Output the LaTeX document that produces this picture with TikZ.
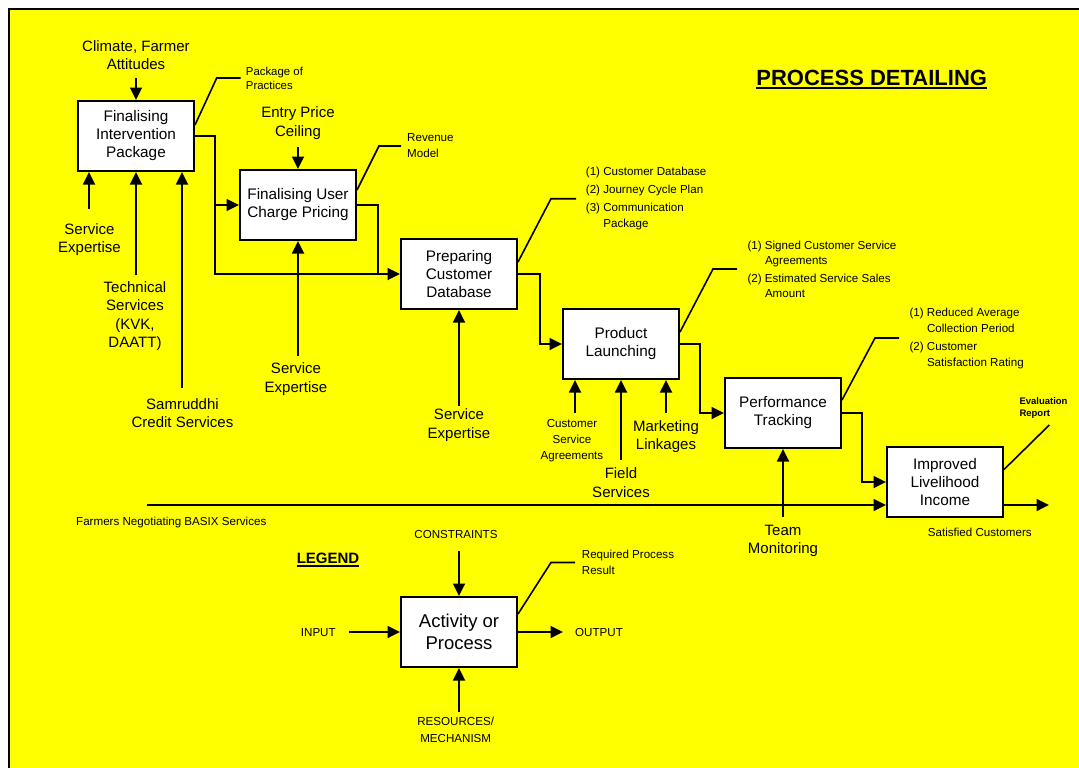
\documentclass[tikz,border=0pt]{standalone}
\usepackage{fontspec}
\setmainfont{Liberation Sans}
\usepackage{tikz}
\usetikzlibrary{positioning,arrows.meta}
\definecolor{bgclr}{rgb}{1, 1, 0}
\definecolor{boxclr}{rgb}{1, 1, 1}
\newcommand{\bigtxt}{\fontsize{15}{18.5}\selectfont}
\newcommand{\smalltxt}{\fontsize{11.6}{16}\selectfont}
\newcommand{\indt}{\hspace*{17.5pt}}
\tikzset{ %
  ,>={Triangle[length=12.5pt,width=12pt]}
  ,every node/.style={inner sep=0, font=\bigtxt}
  ,activity/.style={draw, rectangle, line width=2pt, fill=boxclr, minimum width=116pt, minimum height=70pt, align=center, font=\fontsize{15.3}{18}\selectfont}
  ,lbl/.style={align=center}
  ,tiny/.style={align=center, font=\smalltxt}
  ,note/.style={align=left, anchor=west, font=\smalltxt}
  ,flow/.style={line width=1.8pt, ->}
  ,lead/.style={line width=1.6pt}
}

\begin{document}
\begin{tikzpicture}[x=1pt, y=-1pt]
  % frame
  \useasboundingbox (0,0) rectangle (1079,768);
  \fill[bgclr] (9,9) rectangle (1079,768);
  \draw[line width=2pt] (9,768) -- (9,9) -- (1079,9);

  % title
  \node[font=\fontsize{22}{26}\selectfont\bfseries, anchor=base] (ttl) at (871.7,85.2) {PROCESS DETAILING};
  \draw[line width=2pt] ([yshift=-2.5pt]ttl.base west) -- ([yshift=-2.5pt]ttl.base east);

  % activities
  \draw
  node[activity] (FI) at (136,136) {Finalising\\Intervention\\Package}
  node[activity] (UC) at (298,205) {Finalising User\\Charge Pricing}
  node[activity] (CD) at (459,274) {Preparing\\Customer\\Database}
  node[activity] (PL) at (621,344) {Product\\Launching}
  node[activity] (PT) at (783,413) {Performance\\Tracking}
  node[activity] (LI) at (945,482) {Improved\\Livelihood\\Income};

  % constraints and mechanisms
  \draw
  node[lbl] (cfa) at (136,55) {Climate, Farmer\\Attitudes}
  node[lbl] (epc) at (298,123) {Entry Price\\Ceiling}
  node[lbl] (se1) at (89.5,239.5) {Service\\Expertise}
  node[lbl] (ts) at (135,316) {Technical\\Services\\(KVK,\\DAATT)}
  node[lbl] (scs) at (182.5,413) {Samruddhi\\Credit Services}
  node[lbl] (se2) at (296,379) {Service\\Expertise}
  node[lbl] (se3) at (459,425) {Service\\Expertise}
  node[tiny] (csa) at (572,441) {Customer\\Service\\Agreements}
  node[lbl] (fld) at (621,482.5) {Field\\Services}
  node[lbl] (mkt) at (666,436.7) {Marketing\\Linkages}
  node[lbl] (tmn) at (783,541) {Team\\Monitoring};

  \coordinate (cfa-a) at (136,78);
  \coordinate (epc-a) at (298,147);
  \coordinate (se1-a) at (89,209);
  \coordinate (ts-a) at (136,275);
  \coordinate (scs-a) at (182,388);
  \coordinate (se2-a) at (298,356);
  \coordinate (se3-a) at (459,406);
  \coordinate (csa-a) at (575,413);
  \coordinate (fld-a) at (621,460);
  \coordinate (mkt-a) at (666,413);
  \coordinate (tmn-a) at (783,517);
  \draw[flow] (cfa-a) -- (FI.north);
  \draw[flow] (epc-a) -- (UC.north);
  \draw[flow] (se1-a) -- (se1-a |- FI.south);
  \draw[flow] (ts-a) -- (ts-a |- FI.south);
  \draw[flow] (scs-a) -- (scs-a |- FI.south);
  \draw[flow] (se2-a) -- (UC.south);
  \draw[flow] (se3-a) -- (CD.south);
  \draw[flow] (csa-a) -- (csa-a |- PL.south);
  \draw[flow] (fld-a) -- (PL.south);
  \draw[flow] (mkt-a) -- (mkt-a |- PL.south);
  \draw[flow] (tmn-a) -- (PT.south);

  % flow between activities
  \draw[flow] (FI.east) -| ([xshift=-24pt]UC.west) -- (UC.west);
  \draw[flow] ([xshift=-24pt]UC.west) |- (CD.west);
  \draw[line width=1.8pt] (UC.east) -| ([xshift=-22pt]CD.west);
  \draw[flow] (CD.east) -| ([xshift=-22pt]PL.west) -- (PL.west);
  \draw[flow] (PL.east) -| ([xshift=-24pt]PT.west) -- (PT.west);
  \draw[flow] (PT.east) -| ([xshift=-24pt]LI.west) -- (LI.west);

  \coordinate (fn) at (147,505);
  \coordinate (sc) at (1049,505);
  \draw[flow] (fn) -- (fn -| LI.west);
  \draw[flow] (sc -| LI.east) -- (sc);
  \node[note] (fnb) at (76,522.7) {Farmers Negotiating BASIX Services};
  \node[note] (scu) at (927.7,532.7) {Satisfied Customers};

  % results
  \node[note, font=\fontsize{11.4}{14}\selectfont] (pp) at (245.7,78) {Package of\\Practices};
  \node[note] (rm) at (407,146) {Revenue\\Model};
  \node[note] (cdr) at (585.7,198.7) {(1) Customer Database\\[2pt](2) Journey Cycle Plan\\[2pt](3) Communication\\\indt Package};
  \node[note, font=\fontsize{11.6}{15}\selectfont] (plr) at (747.3,269) {(1) Signed Customer Service\\\indt Agreements\\[3pt](2) Estimated Service Sales\\\indt Amount};
  \node[note] (ptr) at (909.3,338) {(1) Reduced Average\\\indt Collection Period\\[2pt](2) Customer\\\indt Satisfaction Rating};
  \node[note, font=\fontsize{9.5}{12.5}\selectfont\bfseries] (er) at (1019.3,408) {Evaluation\\Report};

  \draw[lead] ([yshift=11pt]FI.east) -- ([xshift=-29pt]pp.west) -- ([xshift=-5pt]pp.west);
  \draw[lead] ([yshift=15pt]UC.east) -- ([xshift=-28pt]rm.west) -- ([xshift=-6pt]rm.west);
  \draw[lead] ([yshift=12pt]CD.east) -- ([xshift=-34.7pt]cdr.west) -- ([xshift=-9.7pt]cdr.west);
  \draw[lead] ([yshift=12pt]PL.east) -- ([xshift=-34.3pt]plr.west) -- ([xshift=-10.3pt]plr.west);
  \draw[lead] ([yshift=13pt]PT.east) -- ([xshift=-34.3pt]ptr.west) -- ([xshift=-10.3pt]ptr.west);
  \draw[lead] ([yshift=12.5pt]LI.east) -- ([xshift=30pt, yshift=-17pt]er.west);

  % legend
  \node[font=\fontsize{15}{18}\selectfont\bfseries, anchor=base] (lgd) at (328,563) {LEGEND};
  \draw[line width=1.6pt] ([yshift=-2.7pt]lgd.base west) -- ([yshift=-2.7pt]lgd.base east);
  \node[activity, font=\fontsize{18.5}{22}\selectfont] (AP) at (459,632) {Activity or\\Process};
  \node[tiny] (cons) at (456,534.3) {CONSTRAINTS};
  \node[tiny] (inp) at (318.3,632.7) {INPUT};
  \node[note] (outp) at (575,632.7) {OUTPUT};
  \node[tiny, font=\fontsize{11.6}{16.5}\selectfont] (res) at (455.7,730) {RESOURCES/\\MECHANISM};
  \node[note] (rpr) at (581.7,562.5) {Required Process\\Result};
  \coordinate (cons-a) at (459,551);
  \coordinate (inp-a) at (349,632);
  \coordinate (outp-a) at (563,632);
  \coordinate (res-a) at (459,712);
  \draw[flow] (cons-a) -- (AP.north);
  \draw[flow] (inp-a) -- (AP.west);
  \draw[flow] (AP.east) -- (outp-a);
  \draw[flow] (res-a) -- (AP.south);
  \draw[lead] ([yshift=18pt]AP.east) -- ([xshift=-30.7pt]rpr.west) -- ([xshift=-6.7pt]rpr.west);
\end{tikzpicture}
\end{document}
